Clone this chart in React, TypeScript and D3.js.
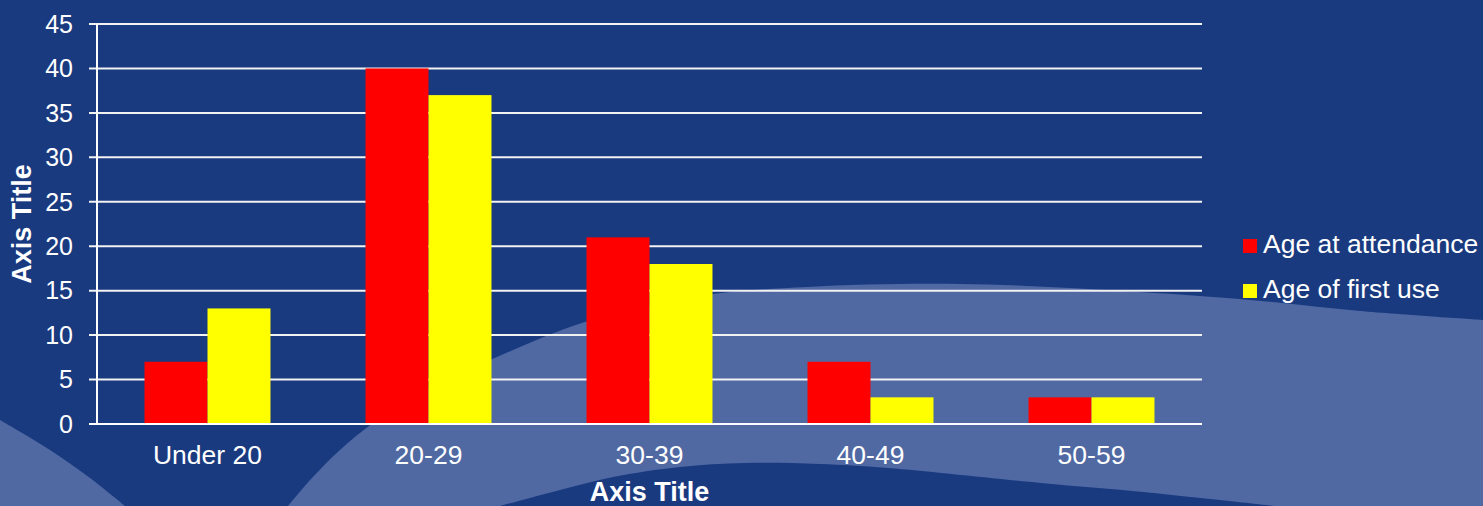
import React from "react";
import * as d3 from "d3";

const categories = ["Under 20", "20-29", "30-39", "40-49", "50-59"];
const seriesNames = ["Age at attendance", "Age of first use"];
const ageAtAttendance = [7, 40, 21, 7, 3];
const ageOfFirstUse = [13, 37, 18, 3, 3];
const yTicks = [0, 5, 10, 15, 20, 25, 30, 35, 40, 45];
const seriesColors = ["#ff0000", "#ffff00"];

const W = 1483;
const H = 506;
const plot = { left: 97, right: 1202, top: 24, bottom: 424 };

// decorative background wave outlines
const leftWave: [number, number][] = [[0, 420], [50, 450], [90, 478], [125, 506]];
const midWaveTop: [number, number][] = [
  [288, 506], [312, 478], [340, 450], [373, 423], [420, 392], [490, 360], [585, 322],
  [700, 296], [807, 287], [960, 284], [1139, 292], [1250, 300], [1360, 311], [1483, 320],
];
const darkHump: [number, number][] = [
  [500, 506], [560, 490], [613, 477], [680, 467], [745, 463], [820, 464], [888, 468],
  [1041, 483], [1143, 492], [1275, 506],
];

export default function App() {
  const x0 = d3.scaleBand<string>().domain(categories).range([plot.left, plot.right]).paddingInner(0.43).paddingOuter(0.215);
  const x1 = d3.scaleBand<string>().domain(seriesNames).range([0, x0.bandwidth()]).padding(0);
  const y = d3.scaleLinear().domain([0, 45]).range([plot.bottom, plot.top]);
  const series = [ageAtAttendance, ageOfFirstUse];

  const curve = d3.line().curve(d3.curveCatmullRom.alpha(0.5));
  const leftPath = curve(leftWave) + `L0,${H}Z`;
  const midPath = curve(midWaveTop) + `L${W},${H}L288,${H}Z`;
  const humpPath = curve(darkHump) + "Z";

  const font = "'Liberation Sans', Arial, sans-serif";

  return (
    <svg width={W} height={H} style={{ position: "absolute", left: 0, top: 0, display: "block" }} fontFamily={font}>
      <rect x={0} y={0} width={W} height={H} fill="#1a3a80" />
      <path d={leftPath} fill="#5069a3" />
      <path d={midPath} fill="#5069a3" />
      <path d={humpPath} fill="#1a3a80" />

      {yTicks.map((t) => (
        <g key={t}>
          <line x1={plot.left - 8} x2={plot.right} y1={y(t)} y2={y(t)} stroke="#f2f2f2" strokeWidth={2} />
          <text x={73} y={y(t)} dy="0.35em" textAnchor="end" fill="#ffffff" fontSize={25}>{t}</text>
        </g>
      ))}
      {categories.map((c, i) => (
        <g key={c}>
          {series.map((s, j) => (
            <rect key={j} x={(x0(c) as number) + (x1(seriesNames[j]) as number)} y={y(s[i])}
              width={x1.bandwidth()} height={y(0) - y(s[i])} fill={seriesColors[j]} />
          ))}
          <text x={(x0(c) as number) + x0.bandwidth() / 2} y={464} textAnchor="middle" fill="#ffffff" fontSize={26.5}>{c}</text>
        </g>
      ))}
      <line x1={plot.left} x2={plot.left} y1={plot.top} y2={plot.bottom} stroke="#ffffff" strokeWidth={2} />
      <line x1={plot.left - 8} x2={plot.right} y1={plot.bottom} y2={plot.bottom} stroke="#ffffff" strokeWidth={2} />

      <text x={(plot.left + plot.right) / 2} y={501} textAnchor="middle" fill="#ffffff" fontSize={27} fontWeight="bold">Axis Title</text>
      <text transform={`translate(31,${(plot.top + plot.bottom) / 2}) rotate(-90)`} textAnchor="middle" fill="#ffffff" fontSize={27} fontWeight="bold">Axis Title</text>

      {seriesNames.map((n, j) => (
        <g key={n} transform={`translate(1243,${239 + j * 45})`}>
          <rect x={0} y={0} width={14} height={14} fill={seriesColors[j]} />
          <text x={20} y={14} fill="#ffffff" fontSize={26.5}>{n}</text>
        </g>
      ))}
    </svg>
  );
}
